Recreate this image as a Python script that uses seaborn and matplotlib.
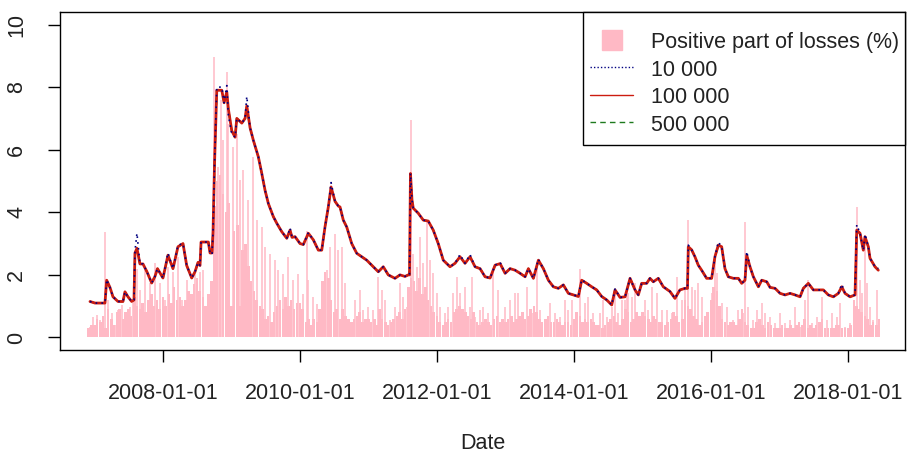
import numpy as np
import pandas as pd
import matplotlib
matplotlib.use("Agg")
import matplotlib.pyplot as plt
import matplotlib.dates as mdates
from matplotlib.lines import Line2D
from matplotlib.patches import Rectangle
import seaborn as sns
from datetime import datetime, timedelta

# ---------------- data (time in fractional years) ----------------
t_var = [
    2006.934, 2007.007, 2007.080, 2007.153, 2007.178, 2007.226, 2007.270, 2007.343, 2007.416, 2007.445,
    2007.489, 2007.543, 2007.577, 2007.591, 2007.620, 2007.664, 2007.708, 2007.766, 2007.835, 2007.883,
    2007.920, 2008.000, 2008.073, 2008.146, 2008.219, 2008.292, 2008.346, 2008.419, 2008.467, 2008.511,
    2008.540, 2008.555, 2008.661, 2008.686, 2008.715, 2008.730, 2008.752, 2008.784, 2008.857, 2008.891,
    2008.930, 2008.953, 2009.003, 2009.051, 2009.076, 2009.149, 2009.197, 2009.222, 2009.270, 2009.318,
    2009.391, 2009.441, 2009.489, 2009.537, 2009.610, 2009.660, 2009.733, 2009.806, 2009.854, 2009.883,
    2009.927, 2010.000, 2010.048, 2010.121, 2010.194, 2010.267, 2010.317, 2010.365, 2010.413, 2010.453,
    2010.511, 2010.559, 2010.584, 2010.632, 2010.682, 2010.755, 2010.828, 2010.901, 2010.974, 2011.070,
    2011.143, 2011.216, 2011.289, 2011.387, 2011.460, 2011.533, 2011.581, 2011.599, 2011.613, 2011.635,
    2011.654, 2011.727, 2011.800, 2011.873, 2011.946, 2012.019, 2012.092, 2012.190, 2012.263, 2012.336,
    2012.409, 2012.482, 2012.555, 2012.628, 2012.701, 2012.774, 2012.847, 2012.920, 2012.993, 2013.066,
    2013.139, 2013.212, 2013.285, 2013.333, 2013.406, 2013.479, 2013.552, 2013.625, 2013.698, 2013.771,
    2013.844, 2013.917, 2013.990, 2014.063, 2014.112, 2014.185, 2014.258, 2014.331, 2014.404, 2014.477,
    2014.550, 2014.599, 2014.672, 2014.745, 2014.818, 2014.891, 2014.939, 2014.988, 2015.061, 2015.109,
    2015.158, 2015.231, 2015.304, 2015.401, 2015.474, 2015.547, 2015.620, 2015.657, 2015.669, 2015.718,
    2015.766, 2015.815, 2015.864, 2015.937, 2016.010, 2016.058, 2016.107, 2016.156, 2016.204, 2016.253,
    2016.326, 2016.399, 2016.448, 2016.496, 2016.521, 2016.569, 2016.618, 2016.691, 2016.740, 2016.813,
    2016.861, 2016.934, 2017.007, 2017.080, 2017.153, 2017.226, 2017.299, 2017.347, 2017.420, 2017.493,
    2017.566, 2017.639, 2017.712, 2017.785, 2017.858, 2017.908, 2017.956, 2018.029, 2018.102, 2018.127,
    2018.175, 2018.223, 2018.248, 2018.296, 2018.321, 2018.394, 2018.442,
]

var_100k = [
    1.15, 1.10, 1.10, 1.10, 1.83, 1.60, 1.30, 1.15, 1.15, 1.46,
    1.30, 1.15, 1.20, 2.70, 2.85, 2.35, 2.35, 2.10, 1.74, 1.95,
    2.20, 1.90, 2.63, 2.20, 2.90, 3.00, 2.30, 1.90, 2.10, 2.40,
    2.30, 3.05, 3.05, 2.70, 2.70, 3.40, 5.60, 7.90, 7.90, 7.50,
    7.85, 7.30, 6.60, 6.40, 7.00, 6.85, 7.00, 7.40, 6.70, 6.30,
    5.77, 5.24, 4.70, 4.28, 3.86, 3.65, 3.38, 3.17, 3.43, 3.20,
    3.22, 3.00, 2.97, 3.33, 3.12, 2.79, 2.79, 3.54, 4.17, 4.81,
    4.35, 4.20, 4.17, 3.75, 3.53, 3.00, 2.69, 2.58, 2.47, 2.26,
    2.10, 2.26, 2.00, 1.89, 2.00, 1.95, 2.00, 2.00, 5.24, 4.40,
    4.13, 3.97, 3.75, 3.72, 3.43, 3.00, 2.47, 2.26, 2.37, 2.58,
    2.37, 2.58, 2.26, 2.20, 1.94, 1.90, 2.31, 2.36, 2.05, 2.20,
    2.15, 2.05, 1.94, 2.20, 1.89, 2.47, 2.20, 1.83, 1.62, 1.57,
    1.68, 1.41, 1.36, 1.31, 1.83, 1.73, 1.62, 1.52, 1.31, 1.20,
    1.04, 1.52, 1.28, 1.30, 1.89, 1.52, 1.36, 1.73, 1.73, 1.89,
    1.78, 1.89, 1.62, 1.47, 1.25, 1.52, 1.57, 1.57, 2.90, 2.80,
    2.58, 2.31, 2.15, 1.89, 1.89, 2.58, 2.95, 2.90, 2.20, 1.94,
    1.89, 1.89, 1.73, 1.83, 2.63, 2.26, 1.94, 1.62, 1.83, 1.78,
    1.60, 1.57, 1.41, 1.36, 1.41, 1.36, 1.30, 1.57, 1.73, 1.52,
    1.52, 1.52, 1.36, 1.30, 1.41, 1.62, 1.41, 1.30, 1.36, 3.43,
    3.33, 2.79, 3.22, 2.90, 2.53, 2.26, 2.15,
]

var_10k = [
    1.15, 1.10, 1.10, 1.10, 1.85, 1.60, 1.30, 1.15, 1.15, 1.46,
    1.30, 1.15, 1.20, 2.75, 3.33, 2.35, 2.35, 2.10, 1.74, 1.95,
    2.20, 1.90, 2.70, 2.20, 2.95, 3.00, 2.30, 1.90, 2.10, 2.40,
    2.30, 3.05, 3.05, 2.70, 2.65, 3.40, 5.60, 8.00, 8.00, 7.50,
    8.05, 7.10, 6.50, 6.40, 7.00, 6.85, 7.00, 7.70, 6.70, 6.30,
    5.77, 5.24, 4.70, 4.28, 3.86, 3.65, 3.38, 3.17, 3.50, 3.20,
    3.22, 3.00, 2.97, 3.35, 3.12, 2.79, 2.79, 3.54, 4.17, 4.95,
    4.35, 4.20, 4.17, 3.75, 3.53, 3.00, 2.69, 2.58, 2.47, 2.26,
    2.10, 2.26, 2.00, 1.89, 2.00, 1.95, 2.00, 2.00, 5.24, 4.40,
    4.13, 3.97, 3.75, 3.72, 3.43, 3.00, 2.47, 2.26, 2.37, 2.65,
    2.37, 2.65, 2.26, 2.20, 1.94, 1.90, 2.31, 2.40, 2.05, 2.20,
    2.15, 2.05, 1.94, 2.20, 1.89, 2.50, 2.20, 1.83, 1.62, 1.57,
    1.68, 1.41, 1.36, 1.31, 1.85, 1.73, 1.62, 1.52, 1.31, 1.20,
    1.04, 1.55, 1.28, 1.30, 1.89, 1.52, 1.36, 1.73, 1.73, 1.89,
    1.78, 1.89, 1.62, 1.47, 1.25, 1.52, 1.57, 1.57, 2.95, 2.80,
    2.58, 2.31, 2.15, 1.89, 1.89, 2.58, 3.05, 2.90, 2.20, 1.94,
    1.89, 1.89, 1.73, 1.83, 2.75, 2.26, 1.94, 1.62, 1.83, 1.78,
    1.60, 1.57, 1.41, 1.36, 1.41, 1.36, 1.30, 1.57, 1.73, 1.52,
    1.52, 1.52, 1.36, 1.30, 1.41, 1.70, 1.41, 1.30, 1.36, 3.60,
    3.33, 2.79, 3.30, 2.90, 2.53, 2.26, 2.20,
]

var_500k = [
    1.15, 1.10, 1.10, 1.10, 1.80, 1.60, 1.30, 1.15, 1.15, 1.45,
    1.30, 1.15, 1.20, 2.70, 2.80, 2.35, 2.35, 2.10, 1.74, 1.95,
    2.20, 1.90, 2.60, 2.20, 2.90, 3.00, 2.30, 1.90, 2.10, 2.40,
    2.30, 3.05, 3.05, 2.70, 2.70, 3.40, 5.60, 7.90, 7.90, 7.50,
    7.80, 7.30, 6.60, 6.40, 7.00, 6.85, 7.00, 7.35, 6.70, 6.30,
    5.77, 5.24, 4.70, 4.28, 3.86, 3.65, 3.38, 3.17, 3.40, 3.20,
    3.22, 3.00, 2.97, 3.30, 3.12, 2.79, 2.79, 3.54, 4.17, 4.78,
    4.35, 4.20, 4.17, 3.75, 3.53, 3.00, 2.69, 2.58, 2.47, 2.26,
    2.10, 2.26, 2.00, 1.89, 2.00, 1.95, 2.00, 2.00, 5.20, 4.40,
    4.13, 3.97, 3.75, 3.72, 3.43, 3.00, 2.47, 2.26, 2.37, 2.58,
    2.37, 2.58, 2.26, 2.20, 1.94, 1.90, 2.31, 2.36, 2.05, 2.20,
    2.15, 2.05, 1.94, 2.20, 1.89, 2.45, 2.20, 1.83, 1.62, 1.57,
    1.68, 1.41, 1.36, 1.31, 1.83, 1.73, 1.62, 1.52, 1.31, 1.20,
    1.04, 1.52, 1.28, 1.30, 1.89, 1.52, 1.36, 1.73, 1.73, 1.89,
    1.78, 1.89, 1.62, 1.47, 1.25, 1.52, 1.57, 1.57, 2.88, 2.80,
    2.58, 2.31, 2.15, 1.89, 1.89, 2.58, 2.92, 2.90, 2.20, 1.94,
    1.89, 1.89, 1.73, 1.83, 2.60, 2.26, 1.94, 1.62, 1.83, 1.78,
    1.60, 1.57, 1.41, 1.36, 1.41, 1.36, 1.30, 1.57, 1.73, 1.52,
    1.52, 1.52, 1.36, 1.30, 1.41, 1.60, 1.41, 1.30, 1.36, 3.40,
    3.33, 2.79, 3.20, 2.90, 2.53, 2.26, 2.15,
]

# positive part of losses (%), typical level per half month (1st and 15th), Dec 2006 - Jun 2018
loss_halfmonth_start = "2006-12-01"
loss_halfmonth_end = "2018-06-15"
loss_level = [
    0.30, 0.40,
    0.40, 0.60, 0.50, 0.70, 0.30, 0.90, 0.60, 0.40, 0.80, 0.90, 0.60, 0.80,
    0.90, 0.70, 1.30, 1.00, 0.90, 1.10, 0.80, 1.20, 1.40, 1.00, 1.20, 0.90,
    1.30, 1.00, 1.40, 1.10, 1.60, 1.20, 1.30, 1.00, 1.20, 1.50, 1.40, 1.70,
    1.90, 1.50, 1.30, 1.00, 1.40, 1.80, 4.20, 5.00, 5.20, 4.60, 4.00, 4.30,
    1.00, 3.40, 3.60, 1.00, 2.80, 3.00, 2.30, 1.80, 1.50, 1.20, 1.00, 0.90,
    0.60, 0.70, 0.50, 0.80, 1.00, 1.20, 0.90, 1.30, 1.00, 1.20, 0.90, 1.10,
    1.10, 0.90, 0.50, 0.60, 0.40, 0.60, 0.50, 0.90, 1.80, 2.10, 1.90, 1.20,
    0.80, 0.90, 0.60, 0.90, 0.70, 0.60, 0.50, 0.60, 0.70, 0.80, 0.50, 0.60,
    0.60, 0.50, 0.60, 0.40, 0.90, 0.60, 0.50, 0.40, 0.50, 0.60, 0.70, 0.80,
    0.60, 0.90, 1.60, 1.90, 1.80, 1.50, 1.90, 1.40, 1.60, 1.20, 1.00, 0.80,
    0.70, 0.50, 0.40, 0.50, 0.60, 0.50, 0.80, 0.90, 1.00, 0.90, 0.80, 0.70,
    0.60, 0.80, 0.50, 0.40, 0.50, 0.60, 0.50, 0.40, 0.60, 0.70, 0.50, 0.60,
    0.50, 0.60, 0.70, 0.50, 0.60, 0.70, 0.80, 0.60, 0.70, 0.90, 1.00, 0.80,
    0.60, 0.50, 0.60, 0.70, 0.50, 0.50, 0.60, 0.50, 0.40, 0.50, 0.50, 0.40,
    0.60, 0.80, 0.70, 0.50, 0.60, 0.50, 0.60, 0.50, 0.40, 0.40, 0.30, 0.40,
    0.50, 0.60, 0.70, 0.50, 0.40, 0.60, 0.90, 0.80, 0.50, 0.60, 0.80, 0.70,
    0.80, 0.70, 0.60, 0.50, 0.70, 0.60, 0.50, 0.50, 0.40, 0.50, 0.60, 0.80,
    0.70, 0.50, 0.60, 1.20, 1.00, 0.90, 0.70, 0.60, 0.40, 0.50, 0.70, 0.80,
    1.20, 1.60, 1.50, 1.00, 0.60, 0.50, 0.40, 0.50, 0.50, 0.40, 0.60, 0.90,
    0.50, 0.40, 0.30, 0.30, 0.50, 0.60, 0.40, 0.30, 0.50, 0.40, 0.30, 0.30,
    0.30, 0.40, 0.30, 0.30, 0.40, 0.30, 0.40, 0.50, 0.40, 0.60, 0.30, 0.40,
    0.30, 0.40, 0.50, 0.60, 0.30, 0.30, 0.30, 0.30, 0.40, 0.40, 0.30, 0.30,
    0.30, 0.40, 1.20, 1.00, 0.90, 0.80, 0.70, 0.60, 0.40, 0.50, 0.40, 0.60,
]

# individual daily peaks of the positive losses (%)
t_loss = [
    2006.934, 2006.982, 2007.032, 2007.080, 2007.153, 2007.201, 2007.251, 2007.299, 2007.347, 2007.397,
    2007.470, 2007.518, 2007.566, 2007.616, 2007.664, 2007.737, 2007.810, 2007.883, 2007.956, 2008.029,
    2008.077, 2008.150, 2008.223, 2008.273, 2008.346, 2008.394, 2008.467, 2008.540, 2008.588, 2008.749,
    2008.807, 2008.839, 2008.880, 2008.930, 2008.953, 2009.026, 2009.076, 2009.124, 2009.172, 2009.245,
    2009.318, 2009.368, 2009.441, 2009.489, 2009.562, 2009.635, 2009.683, 2009.756, 2009.829, 2009.902,
    2009.975, 2010.048, 2010.096, 2010.121, 2010.194, 2010.244, 2010.317, 2010.390, 2010.438, 2010.511,
    2010.559, 2010.609, 2010.657, 2010.803, 2010.876, 2010.924, 2010.997, 2011.070, 2011.143, 2011.193,
    2011.241, 2011.314, 2011.387, 2011.460, 2011.508, 2011.558, 2011.616, 2011.654, 2011.704, 2011.752,
    2011.800, 2011.858, 2011.898, 2011.946, 2011.996, 2012.044, 2012.117, 2012.165, 2012.238, 2012.288,
    2012.336, 2012.409, 2012.482, 2012.507, 2012.555, 2012.628, 2012.676, 2012.749, 2012.822, 2012.895,
    2012.993, 2013.066, 2013.139, 2013.187, 2013.260, 2013.310, 2013.406, 2013.456, 2013.504, 2013.601,
    2013.650, 2013.723, 2013.796, 2013.869, 2013.917, 2013.966, 2014.039, 2014.088, 2014.161, 2014.209,
    2014.282, 2014.380, 2014.428, 2014.477, 2014.550, 2014.599, 2014.647, 2014.696, 2014.745, 2014.769,
    2014.793, 2014.842, 2014.891, 2014.964, 2015.036, 2015.085, 2015.134, 2015.207, 2015.280, 2015.353,
    2015.426, 2015.499, 2015.572, 2015.620, 2015.660, 2015.718, 2015.766, 2015.815, 2015.864, 2015.937,
    2016.010, 2016.058, 2016.092, 2016.156, 2016.229, 2016.326, 2016.399, 2016.471, 2016.496, 2016.545,
    2016.618, 2016.667, 2016.740, 2016.788, 2016.861, 2016.934, 2017.007, 2017.080, 2017.153, 2017.226,
    2017.299, 2017.372, 2017.420, 2017.470, 2017.543, 2017.616, 2017.689, 2017.762, 2017.835, 2017.883,
    2017.956, 2018.029, 2018.092, 2018.127, 2018.175, 2018.200, 2018.248, 2018.273, 2018.321, 2018.369,
    2018.419,
]
loss_pos = [
    0.35, 0.66, 0.72, 0.56, 3.38, 1.20, 0.77, 0.40, 0.88, 1.04,
    0.77, 0.98, 1.09, 2.20, 1.52, 2.15, 1.73, 2.37, 1.73, 1.20,
    2.26, 2.10, 2.58, 1.20, 1.83, 1.20, 2.15, 2.10, 2.15, 8.95,
    5.44, 7.60, 6.30, 8.47, 6.83, 6.08, 6.50, 5.02, 5.34, 4.38,
    5.76, 3.74, 3.53, 2.89, 2.68, 2.47, 2.15, 2.04, 2.57, 1.83,
    2.04, 1.40, 3.40, 1.83, 1.30, 1.08, 1.72, 2.15, 2.89, 3.32,
    2.79, 2.90, 1.73, 1.20, 1.52, 0.88, 0.98, 0.88, 1.94, 1.52,
    1.20, 0.56, 0.98, 1.73, 1.30, 0.98, 6.94, 2.68, 2.26, 3.22,
    2.37, 3.75, 2.47, 2.05, 1.41, 0.98, 0.77, 0.98, 1.41, 1.94,
    1.41, 1.62, 0.98, 1.94, 0.66, 0.88, 0.98, 0.77, 2.15, 1.52,
    0.98, 1.20, 1.41, 1.41, 0.56, 1.62, 0.77, 2.37, 0.88, 0.56,
    1.09, 0.77, 0.66, 1.20, 0.88, 1.20, 0.77, 2.20, 1.09, 1.30,
    0.77, 0.77, 1.20, 0.66, 0.98, 1.41, 0.77, 1.20, 1.20, 1.52,
    1.41, 1.30, 1.73, 0.56, 1.20, 0.88, 1.62, 1.41, 0.88, 0.88,
    0.77, 1.94, 1.20, 1.52, 3.75, 1.62, 1.52, 1.73, 1.30, 0.77,
    1.41, 2.47, 2.05, 1.09, 0.98, 0.56, 0.88, 0.77, 3.70, 0.98,
    0.56, 0.88, 1.09, 0.77, 0.66, 0.45, 0.77, 0.45, 0.56, 0.98,
    0.35, 1.20, 1.83, 0.45, 0.66, 1.30, 0.56, 0.77, 0.66, 1.09,
    0.35, 0.45, 0.56, 4.17, 1.83, 1.41, 2.90, 1.73, 0.98, 0.56,
    1.52,
]

tick_years = [2008, 2010, 2012, 2014, 2016, 2018]
x_range = [2006.496, 2018.832]
y_ticks = [0, 2, 4, 6, 8, 10]
legend_labels = ["Positive part of losses (%)", "10 000", "100 000", "500 000"]
x_label = "Date"


def to_date(y):
    yr = int(np.floor(y))
    start = datetime(yr, 1, 1)
    ndays = (datetime(yr + 1, 1, 1) - start).days
    return start + timedelta(days=(y - yr) * ndays)


PINK = "#FFB9C5"
BLUE = "#000080"
RED = "#CC1C10"
GREEN = "#1E7A1E"
FS = 15.5

sns.set_theme(style="ticks")
plt.rcParams["font.family"] = ["Liberation Sans", "DejaVu Sans"]
plt.rcParams["axes.edgecolor"] = "black"
plt.rcParams["axes.linewidth"] = 1.0

fig = plt.figure(figsize=(9.12, 4.57), dpi=100)
fig.patch.set_facecolor("white")
ax = fig.add_axes([60 / 912, 107 / 457, 845 / 912, 338 / 457])
ax.set_facecolor("white")

d_var = [to_date(t) for t in t_var]
d_loss = [to_date(t) for t in t_loss]
d_level = pd.date_range(loss_halfmonth_start, loss_halfmonth_end, freq="SMS")

# positive part of losses
ax.bar(d_level, loss_level, width=13.5, color=PINK, linewidth=0, align="center", zorder=1)
ax.vlines(d_loss, 0, loss_pos, color=PINK, linewidth=1.1, zorder=1)

# VaR-type lines
sns.lineplot(x=d_var, y=var_500k, ax=ax, color=GREEN, linewidth=1.3,
             linestyle=(0, (4, 3)), estimator=None, errorbar=None, legend=False, zorder=3)
sns.lineplot(x=d_var, y=var_100k, ax=ax, color=RED, linewidth=2.0,
             estimator=None, errorbar=None, legend=False, zorder=4)
sns.lineplot(x=d_var, y=var_10k, ax=ax, color=BLUE, linewidth=1.2,
             linestyle=(0, (1, 2.5)), estimator=None, errorbar=None, legend=False, zorder=5)

ax.set_xlim(to_date(x_range[0]), to_date(x_range[1]))
ax.set_ylim(-0.4, 10.4)
ax.set_xticks([datetime(y, 1, 1) for y in tick_years])
ax.xaxis.set_major_formatter(mdates.DateFormatter("%Y-%m-%d"))
ax.set_yticks(y_ticks)
ax.set_yticklabels([str(v) for v in y_ticks])

ax.tick_params(axis="both", direction="out", length=8.5, width=1.0, color="black",
               labelsize=FS, labelcolor="#222222", pad=15)
for lab in ax.get_yticklabels():
    lab.set_rotation(90)
    lab.set_va("center")

ax.set_xlabel(x_label, fontsize=FS, color="#222222", labelpad=21)
ax.set_ylabel("")
for s in ax.spines.values():
    s.set_visible(True)
    s.set_color("black")
    s.set_linewidth(1.0)

# legend: frame box in the top-right corner, entries inside it
x0_px, bottom_px = 583, 145
frame = Rectangle(((x0_px - 60) / 845, (350 - bottom_px) / 338),
                  1 - (x0_px - 60) / 845, 1 - (350 - bottom_px) / 338,
                  transform=ax.transAxes, facecolor="white", edgecolor="black",
                  linewidth=1.0, zorder=9, clip_on=False)
ax.add_patch(frame)

handles = [
    Line2D([0], [0], marker="s", linestyle="None", color=PINK, markersize=15),
    Line2D([0], [0], color=BLUE, linewidth=1.0, linestyle=(0, (1, 1.5))),
    Line2D([0], [0], color=RED, linewidth=1.0),
    Line2D([0], [0], color=GREEN, linewidth=1.0, linestyle=(0, (4, 3))),
]
leg = ax.legend(handles, legend_labels, loc="upper right",
                bbox_to_anchor=(1.0, 1 - 14 / 338), bbox_transform=ax.transAxes,
                borderaxespad=0, frameon=False, fontsize=FS,
                handlelength=2.0, handletextpad=0.85, handleheight=1.0,
                labelspacing=0.25, borderpad=0.25)
for txt in leg.get_texts():
    txt.set_color("#222222")
leg.set_zorder(10)

fig.savefig("out.png", dpi=100, facecolor="white")
